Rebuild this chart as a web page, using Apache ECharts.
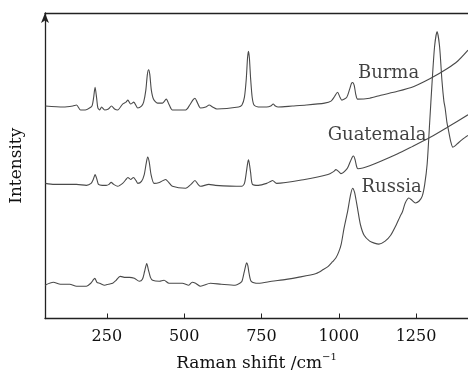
<!DOCTYPE html>
<html>
<head>
<meta charset="utf-8">
<script src="https://cdn.jsdelivr.net/npm/echarts@6/dist/echarts.min.js"></script>
<style>
  html, body { margin: 0; padding: 0; background: #fff; }
  #chart { width: 468px; height: 377px; }
</style>
</head>
<body>
<div id="chart"></div>
<script>
// Raman shift (cm-1), relative intensity (offset traces)
const burma = [
  [51, 217], [109, 216], [140, 217], [152, 218], [165, 213], [180, 213], [199, 216],
  [203, 218], [207, 225], [212, 236], [217, 225], [221, 215], [227, 213], [233, 216],
  [243, 213], [255, 214], [265, 217], [275, 214], [285, 213], [301, 219], [312, 221],
  [318, 223], [327, 219], [337, 221], [350, 215], [362, 217], [369, 221], [376, 233],
  [381, 249], [385, 254], [389, 249], [394, 233], [401, 224], [414, 220], [430, 220],
  [442, 224], [452, 218], [462, 213], [505, 213], [518, 218], [528, 223], [535, 225],
  [542, 221], [553, 215], [570, 216], [581, 218], [592, 216], [606, 214], [676, 216],
  [687, 218], [695, 226], [701, 245], [705, 266], [708, 273], [711, 266], [715, 245],
  [720, 226], [726, 218], [740, 216], [767, 216], [780, 217], [788, 219], [795, 217],
  [804, 216], [850, 217], [895, 218], [954, 220], [975, 222], [987, 227], [996, 231],
  [1004, 226], [1010, 223], [1026, 226], [1035, 234], [1041, 240], [1045, 241],
  [1050, 238], [1055, 229], [1061, 224], [1100, 225], [1136, 228], [1190, 232],
  [1243, 237], [1296, 245], [1350, 255], [1385, 263], [1418, 274],
];

const guatemala = [
  [51, 138], [80, 137], [109, 137], [152, 137], [184, 136], [199, 138], [206, 142],
  [212, 147], [218, 142], [223, 137], [235, 136], [248, 136], [257, 137], [264, 139],
  [272, 137], [285, 135], [301, 138], [312, 142], [318, 144], [327, 142], [336, 144],
  [344, 141], [350, 138], [362, 140], [371, 147], [377, 158], [382, 165], [387, 160],
  [393, 147], [403, 138], [420, 139], [440, 142], [450, 139], [462, 135], [505, 133],
  [522, 137], [535, 141], [545, 137], [553, 135], [580, 137], [601, 136], [686, 135],
  [695, 138], [701, 149], [705, 158], [708, 162], [711, 158], [715, 149], [721, 137],
  [740, 136], [767, 138], [779, 140], [786, 141], [799, 138], [890, 142], [965, 147],
  [983, 150], [991, 152], [1000, 150], [1007, 148], [1027, 153], [1037, 160],
  [1044, 165], [1048, 166], [1053, 162], [1058, 155], [1062, 153], [1100, 156],
  [1189, 168], [1240, 176], [1296, 185], [1350, 195], [1418, 208],
];

const russia = [
  [50, 34], [77, 37], [100, 35], [130, 35], [152, 33], [184, 33], [198, 36],
  [205, 39], [211, 41], [218, 37], [227, 36], [243, 34], [255, 35], [269, 36],
  [280, 39], [293, 43], [310, 42], [323, 42], [339, 41], [355, 38], [365, 40],
  [372, 48], [379, 56], [385, 49], [391, 42], [398, 39], [420, 38], [435, 39],
  [451, 36], [494, 36], [515, 34], [526, 37], [537, 36], [553, 33], [585, 36],
  [620, 35], [665, 34], [680, 36], [687, 38], [694, 47], [699, 54], [702, 57],
  [706, 54], [710, 46], [717, 38], [740, 36], [783, 38], [830, 40], [868, 42],
  [927, 46], [950, 50], [965, 53], [980, 58], [991, 62], [1000, 68], [1008, 76],
  [1017, 92], [1029, 110], [1038, 126], [1045, 133], [1051, 129], [1056, 121],
  [1061, 112], [1070, 96], [1082, 85], [1100, 79], [1115, 77], [1130, 76],
  [1150, 79], [1168, 85], [1185, 95], [1198, 104], [1206, 109], [1215, 118],
  [1227, 123], [1236, 121], [1248, 118], [1260, 120], [1270, 125], [1278, 137],
  [1286, 158], [1294, 200], [1302, 242], [1310, 278], [1318, 293], [1326, 278],
  [1334, 242], [1340, 222], [1344, 215], [1350, 200], [1355, 192], [1362, 181],
  [1369, 175], [1375, 176], [1382, 178], [1400, 183], [1418, 187],
];

const traceNames = ["Burma", "Guatemala", "Russia"];
const traceLabels = [
  [1161, 250, "Burma"],
  [1124, 187, "Guatemala"],
  [1171, 134, "Russia"],
];
const xTicks = [250, 500, 750, 1000, 1250];

const X_MIN = 50;
const X_MAX = 1418;
const Y_MIN = 0;
const Y_MAX = 312;

const LINE_COLOR = "#4a4a4a";
const AXIS_COLOR = "#222";
const TEXT_COLOR = "#111";
const FONT = "'DejaVu Serif', serif";

const chart = echarts.init(document.getElementById("chart"), null, { renderer: "canvas" });

chart.setOption({
  animation: false,
  backgroundColor: "#fff",
  grid: { left: 42, right: 0, top: 13, bottom: 52 },
  xAxis: [
    {
      type: "value",
      min: X_MIN,
      max: X_MAX,
      name: "{a|Raman shifit /cm}{s|\u22121}",
      nameLocation: "middle",
      nameGap: 34,
      nameTextStyle: {
        rich: {
          a: { fontFamily: FONT, fontSize: 17, color: TEXT_COLOR },
          s: { fontFamily: FONT, fontSize: 10, color: TEXT_COLOR, verticalAlign: "top", padding: [0, 0, 12, 0] },
        },
      },
      axisLine: { show: true, lineStyle: { color: AXIS_COLOR, width: 1.3 } },
      axisTick: { show: true, inside: true, length: 5, customValues: xTicks, lineStyle: { color: AXIS_COLOR } },
      axisLabel: {
        customValues: xTicks,
        formatter: (v) => String(v),
        color: TEXT_COLOR,
        fontFamily: FONT,
        fontSize: 16,
        margin: 10,
      },
      splitLine: { show: false },
    },
    {
      type: "value",
      position: "top",
      min: X_MIN,
      max: X_MAX,
      axisLine: { show: true, lineStyle: { color: AXIS_COLOR, width: 1.3 } },
      axisTick: { show: false },
      axisLabel: { show: false },
      splitLine: { show: false },
    },
  ],
  yAxis: {
    type: "value",
    min: Y_MIN,
    max: Y_MAX,
    name: "Intensity",
    nameLocation: "middle",
    nameGap: 20,
    nameTextStyle: { fontFamily: FONT, fontSize: 17, color: TEXT_COLOR },
    axisLine: {
      show: true,
      symbol: ["none", "arrow"],
      symbolSize: [6, 10],
      lineStyle: { color: AXIS_COLOR, width: 1.3 },
    },
    axisTick: { show: false },
    axisLabel: { show: false },
    splitLine: { show: false },
  },
  series: [
    ...[burma, guatemala, russia].map((data, i) => ({
      name: traceNames[i],
      type: "line",
      data,
      showSymbol: false,
      smooth: 0.25,
      lineStyle: { color: LINE_COLOR, width: 1.1 },
    })),
    {
      type: "scatter",
      symbolSize: 0,
      silent: true,
      data: traceLabels.map((d) => ({ value: [d[0], d[1]], name: d[2] })),
      label: {
        show: true,
        position: "inside",
        formatter: (p) => p.name,
        fontFamily: FONT,
        fontSize: 18,
        color: TEXT_COLOR,
        textBorderWidth: 0,
      },
    },
  ],
});
</script>
</body>
</html>
